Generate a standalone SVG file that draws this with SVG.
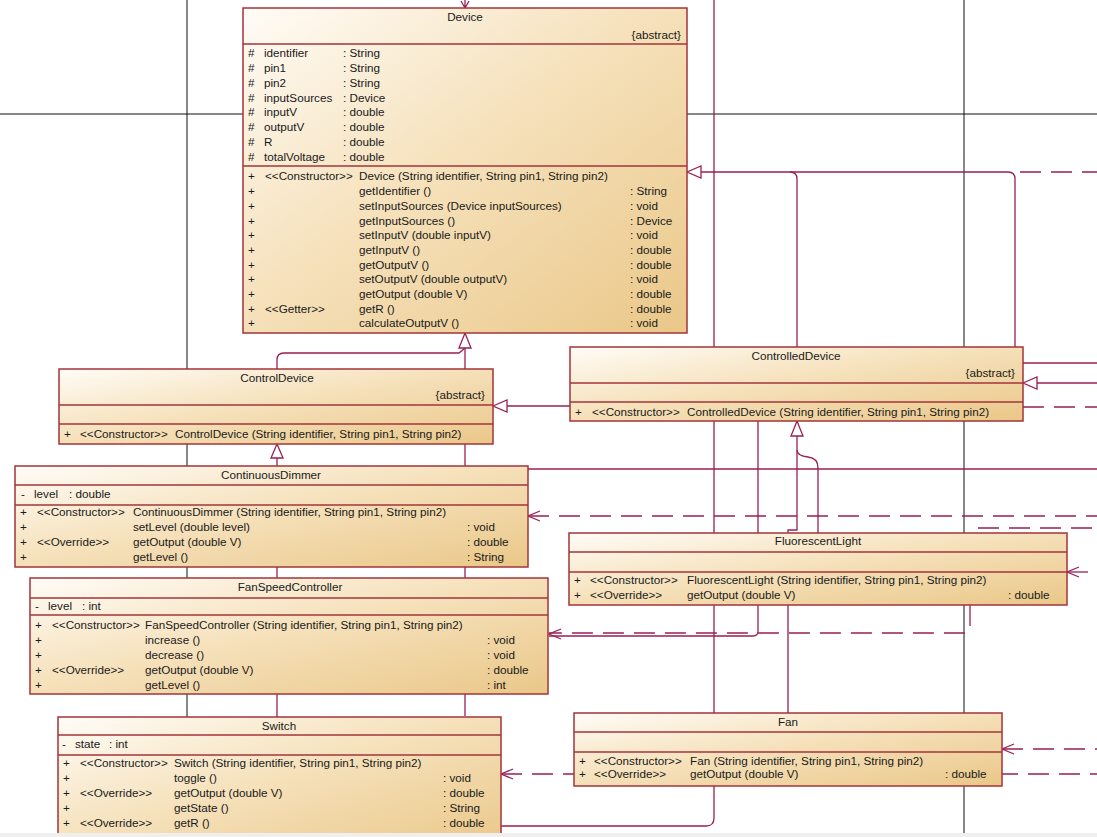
<svg xmlns="http://www.w3.org/2000/svg" width="1097" height="837" viewBox="0 0 1097 837">
<style>
.t{font-family:"Liberation Sans",Arial,sans-serif;font-size:11.7px;fill:#1a1a1a}
.m{text-anchor:middle}
.e{text-anchor:end}
.b{fill:url(#g);stroke:#a3343a;stroke-width:1.5}
.d{stroke:#a3343a;stroke-width:1.3}
.k{stroke:#111;stroke-width:1;fill:none}
.ln{stroke:#9a1f55;stroke-width:1.3;fill:none}
.dl{stroke:#9a1f55;stroke-width:1.3;fill:none;stroke-dasharray:21 10}
.tri{fill:#fff;stroke:#9a1f55;stroke-width:1.3}
</style>
<defs>
<linearGradient id="g" x1="0" y1="0" x2="1" y2="1">
<stop offset="0" stop-color="#fffcf7"/>
<stop offset="0.45" stop-color="#f6e2bd"/>
<stop offset="1" stop-color="#eac788"/>
</linearGradient>
</defs>
<rect width="1097" height="837" fill="#fff"/>
<g id="connectors">
<line class="k" x1="0" y1="114" x2="1097" y2="114"/>
<line class="k" x1="187" y1="0" x2="187" y2="837"/>
<line class="k" x1="964" y1="0" x2="964" y2="837"/>
<path class="ln" d="M714,0 V818 Q714,826 706,826 H501"/>
<path class="ln" d="M465,0 V8 M461,1 L465,8 L469,1"/>
<path class="ln" d="M701,172 H1008 Q1015,172 1015,179 V347"/>
<path class="ln" d="M790,172 Q797,172 797,179 V347"/>
<path class="dl" d="M1020,172 H1097"/>
<polygon class="tri" points="687,172 701,166 701,178"/>
<path class="ln" d="M465,348 V716"/>
<path class="ln" d="M277,369 V360 Q277,353 284,353 H459 L465,348"/>
<polygon class="tri" points="465,333 459,348 471,348"/>
<path class="ln" d="M507,406 H570"/>
<polygon class="tri" points="493,406 507,400 507,412"/>
<path class="ln" d="M277,458 V717"/>
<polygon class="tri" points="277,444 271,458 283,458"/>
<path class="ln" d="M528,469 H1097"/>
<path class="dl" d="M528,516 H1097"/>
<path class="ln" d="M540,511 L528,516 L540,521"/>
<path class="ln" d="M1023,363 H1097"/>
<path class="ln" d="M1037,383 H1097"/>
<polygon class="tri" points="1023,383 1037,377 1037,389"/>
<path class="dl" d="M1023,407 H1097"/>
<path class="ln" d="M797,436 V530 H788 V713"/>
<path class="ln" d="M797,450 Q797,456 808,457 Q818,458 818,468 V533"/>
<polygon class="tri" points="797,421 791,436 803,436"/>
<path class="ln" d="M758,421 V631 Q758,636 753,636 H549"/>
<path class="dl" d="M970,605 V628 Q970,633 965,633 H549"/>
<path class="ln" d="M561,629 L549,634 L561,639"/>
<path class="dl" d="M1092,528 H976 Q971,528 971,533"/>
<path class="dl" d="M1067,572 H1097"/>
<path class="ln" d="M1079,567 L1067,572 L1079,577"/>
<path class="dl" d="M1002,749 H1097"/>
<path class="ln" d="M1014,744 L1002,749 L1014,754"/>
<path class="dl" d="M501,774 H1097"/>
<path class="ln" d="M513,769 L501,774 L513,779"/>
</g>
<g id="Device">
<rect class="b" x="243" y="8" width="444" height="325"/>
<line class="d" x1="243" y1="44" x2="687" y2="44"/>
<line class="d" x1="243" y1="166" x2="687" y2="166"/>
<text class="t m" x="465" y="21">Device</text>
<text class="t e" x="681" y="39">{abstract}</text>
<g class="t">
<text x="248" y="57">#</text><text x="264" y="57">identifier</text><text x="343" y="57">: String</text>
<text x="248" y="72">#</text><text x="264" y="72">pin1</text><text x="343" y="72">: String</text>
<text x="248" y="87">#</text><text x="264" y="87">pin2</text><text x="343" y="87">: String</text>
<text x="248" y="102">#</text><text x="264" y="102">inputSources</text><text x="343" y="102">: Device</text>
<text x="248" y="116">#</text><text x="264" y="116">inputV</text><text x="343" y="116">: double</text>
<text x="248" y="131">#</text><text x="264" y="131">outputV</text><text x="343" y="131">: double</text>
<text x="248" y="146">#</text><text x="264" y="146">R</text><text x="343" y="146">: double</text>
<text x="248" y="161">#</text><text x="264" y="161">totalVoltage</text><text x="343" y="161">: double</text>
<text x="248" y="180">+</text><text x="265" y="180">&lt;&lt;Constructor&gt;&gt;</text><text x="359" y="180">Device (String identifier, String pin1, String pin2)</text>
<text x="248" y="195">+</text><text x="359" y="195">getIdentifier ()</text><text x="630" y="195">: String</text>
<text x="248" y="210">+</text><text x="359" y="210">setInputSources (Device inputSources)</text><text x="630" y="210">: void</text>
<text x="248" y="225">+</text><text x="359" y="225">getInputSources ()</text><text x="630" y="225">: Device</text>
<text x="248" y="239">+</text><text x="359" y="239">setInputV (double inputV)</text><text x="630" y="239">: void</text>
<text x="248" y="254">+</text><text x="359" y="254">getInputV ()</text><text x="630" y="254">: double</text>
<text x="248" y="269">+</text><text x="359" y="269">getOutputV ()</text><text x="630" y="269">: double</text>
<text x="248" y="283">+</text><text x="359" y="283">setOutputV (double outputV)</text><text x="630" y="283">: void</text>
<text x="248" y="298">+</text><text x="359" y="298">getOutput (double V)</text><text x="630" y="298">: double</text>
<text x="248" y="313">+</text><text x="265" y="313">&lt;&lt;Getter&gt;&gt;</text><text x="359" y="313">getR ()</text><text x="630" y="313">: double</text>
<text x="248" y="327">+</text><text x="359" y="327">calculateOutputV ()</text><text x="630" y="327">: void</text>
</g>
</g>
<g id="ControlDevice">
<rect class="b" x="59" y="369" width="434" height="75"/>
<line class="d" x1="59" y1="405" x2="493" y2="405"/>
<line class="d" x1="59" y1="424" x2="493" y2="424"/>
<text class="t m" x="277" y="382">ControlDevice</text>
<text class="t e" x="485" y="399">{abstract}</text>
<text class="t" x="64" y="438">+</text><text class="t" x="80" y="438">&lt;&lt;Constructor&gt;&gt;</text><text class="t" x="175" y="438">ControlDevice (String identifier, String pin1, String pin2)</text>
</g>
<g id="ControlledDevice">
<rect class="b" x="570" y="347" width="453" height="74"/>
<line class="d" x1="570" y1="383" x2="1023" y2="383"/>
<line class="d" x1="570" y1="402" x2="1023" y2="402"/>
<text class="t m" x="796" y="360">ControlledDevice</text>
<text class="t e" x="1015" y="377">{abstract}</text>
<text class="t" x="575" y="416">+</text><text class="t" x="592" y="416">&lt;&lt;Constructor&gt;&gt;</text><text class="t" x="687" y="416">ControlledDevice (String identifier, String pin1, String pin2)</text>
</g>
<g id="ContinuousDimmer">
<rect class="b" x="15" y="466" width="513" height="101"/>
<line class="d" x1="15" y1="485" x2="528" y2="485"/>
<line class="d" x1="15" y1="505" x2="528" y2="505"/>
<text class="t m" x="271" y="479">ContinuousDimmer</text>
<g class="t">
<text x="21" y="498">-</text><text x="34" y="498">level</text><text x="69" y="498">: double</text>
<text x="20" y="516">+</text><text x="37" y="516">&lt;&lt;Constructor&gt;&gt;</text><text x="133" y="516">ContinuousDimmer (String identifier, String pin1, String pin2)</text>
<text x="20" y="531">+</text><text x="133" y="531">setLevel (double level)</text><text x="467" y="531">: void</text>
<text x="20" y="546">+</text><text x="37" y="546">&lt;&lt;Override&gt;&gt;</text><text x="133" y="546">getOutput (double V)</text><text x="467" y="546">: double</text>
<text x="20" y="561">+</text><text x="133" y="561">getLevel ()</text><text x="467" y="561">: String</text>
</g>
</g>
<g id="FanSpeedController">
<rect class="b" x="30" y="578" width="518" height="116"/>
<line class="d" x1="30" y1="598" x2="548" y2="598"/>
<line class="d" x1="30" y1="615" x2="548" y2="615"/>
<text class="t m" x="290" y="591">FanSpeedController</text>
<g class="t">
<text x="35" y="610">-</text><text x="48" y="610">level</text><text x="82" y="610">: int</text>
<text x="35" y="629">+</text><text x="52" y="629">&lt;&lt;Constructor&gt;&gt;</text><text x="145" y="629">FanSpeedController (String identifier, String pin1, String pin2)</text>
<text x="35" y="644">+</text><text x="145" y="644">increase ()</text><text x="487" y="644">: void</text>
<text x="35" y="659">+</text><text x="145" y="659">decrease ()</text><text x="487" y="659">: void</text>
<text x="35" y="674">+</text><text x="52" y="674">&lt;&lt;Override&gt;&gt;</text><text x="145" y="674">getOutput (double V)</text><text x="487" y="674">: double</text>
<text x="35" y="689">+</text><text x="145" y="689">getLevel ()</text><text x="487" y="689">: int</text>
</g>
</g>
<g id="Switch">
<rect class="b" x="58" y="717" width="443" height="135"/>
<line class="d" x1="58" y1="735" x2="501" y2="735"/>
<line class="d" x1="58" y1="755" x2="501" y2="755"/>
<text class="t m" x="279" y="730">Switch</text>
<g class="t">
<text x="62" y="748">-</text><text x="75" y="748">state</text><text x="109" y="748">: int</text>
<text x="63" y="767">+</text><text x="80" y="767">&lt;&lt;Constructor&gt;&gt;</text><text x="174" y="767">Switch (String identifier, String pin1, String pin2)</text>
<text x="63" y="782">+</text><text x="174" y="782">toggle ()</text><text x="443" y="782">: void</text>
<text x="63" y="797">+</text><text x="80" y="797">&lt;&lt;Override&gt;&gt;</text><text x="174" y="797">getOutput (double V)</text><text x="443" y="797">: double</text>
<text x="63" y="812">+</text><text x="174" y="812">getState ()</text><text x="443" y="812">: String</text>
<text x="63" y="827">+</text><text x="80" y="827">&lt;&lt;Override&gt;&gt;</text><text x="174" y="827">getR ()</text><text x="443" y="827">: double</text>
</g>
</g>
<g id="FluorescentLight">
<rect class="b" x="569" y="533" width="498" height="72"/>
<line class="d" x1="569" y1="552" x2="1067" y2="552"/>
<line class="d" x1="569" y1="572" x2="1067" y2="572"/>
<text class="t m" x="818" y="545">FluorescentLight</text>
<text class="t" x="574" y="584">+</text><text class="t" x="590" y="584">&lt;&lt;Constructor&gt;&gt;</text><text class="t" x="687" y="584">FluorescentLight (String identifier, String pin1, String pin2)</text>
<text class="t" x="574" y="599">+</text><text class="t" x="590" y="599">&lt;&lt;Override&gt;&gt;</text><text class="t" x="687" y="599">getOutput (double V)</text><text class="t" x="1008" y="599">: double</text>
</g>
<g id="Fan">
<rect class="b" x="574" y="713" width="428" height="73"/>
<line class="d" x1="574" y1="732" x2="1002" y2="732"/>
<line class="d" x1="574" y1="752" x2="1002" y2="752"/>
<text class="t m" x="788" y="726">Fan</text>
<text class="t" x="579" y="765">+</text><text class="t" x="594" y="765">&lt;&lt;Constructor&gt;&gt;</text><text class="t" x="690" y="765">Fan (String identifier, String pin1, String pin2)</text>
<text class="t" x="579" y="778">+</text><text class="t" x="594" y="778">&lt;&lt;Override&gt;&gt;</text><text class="t" x="690" y="778">getOutput (double V)</text><text class="t" x="945" y="778">: double</text>
</g>
<rect x="0" y="833" width="1097" height="4" fill="#efefef"/>
</svg>
